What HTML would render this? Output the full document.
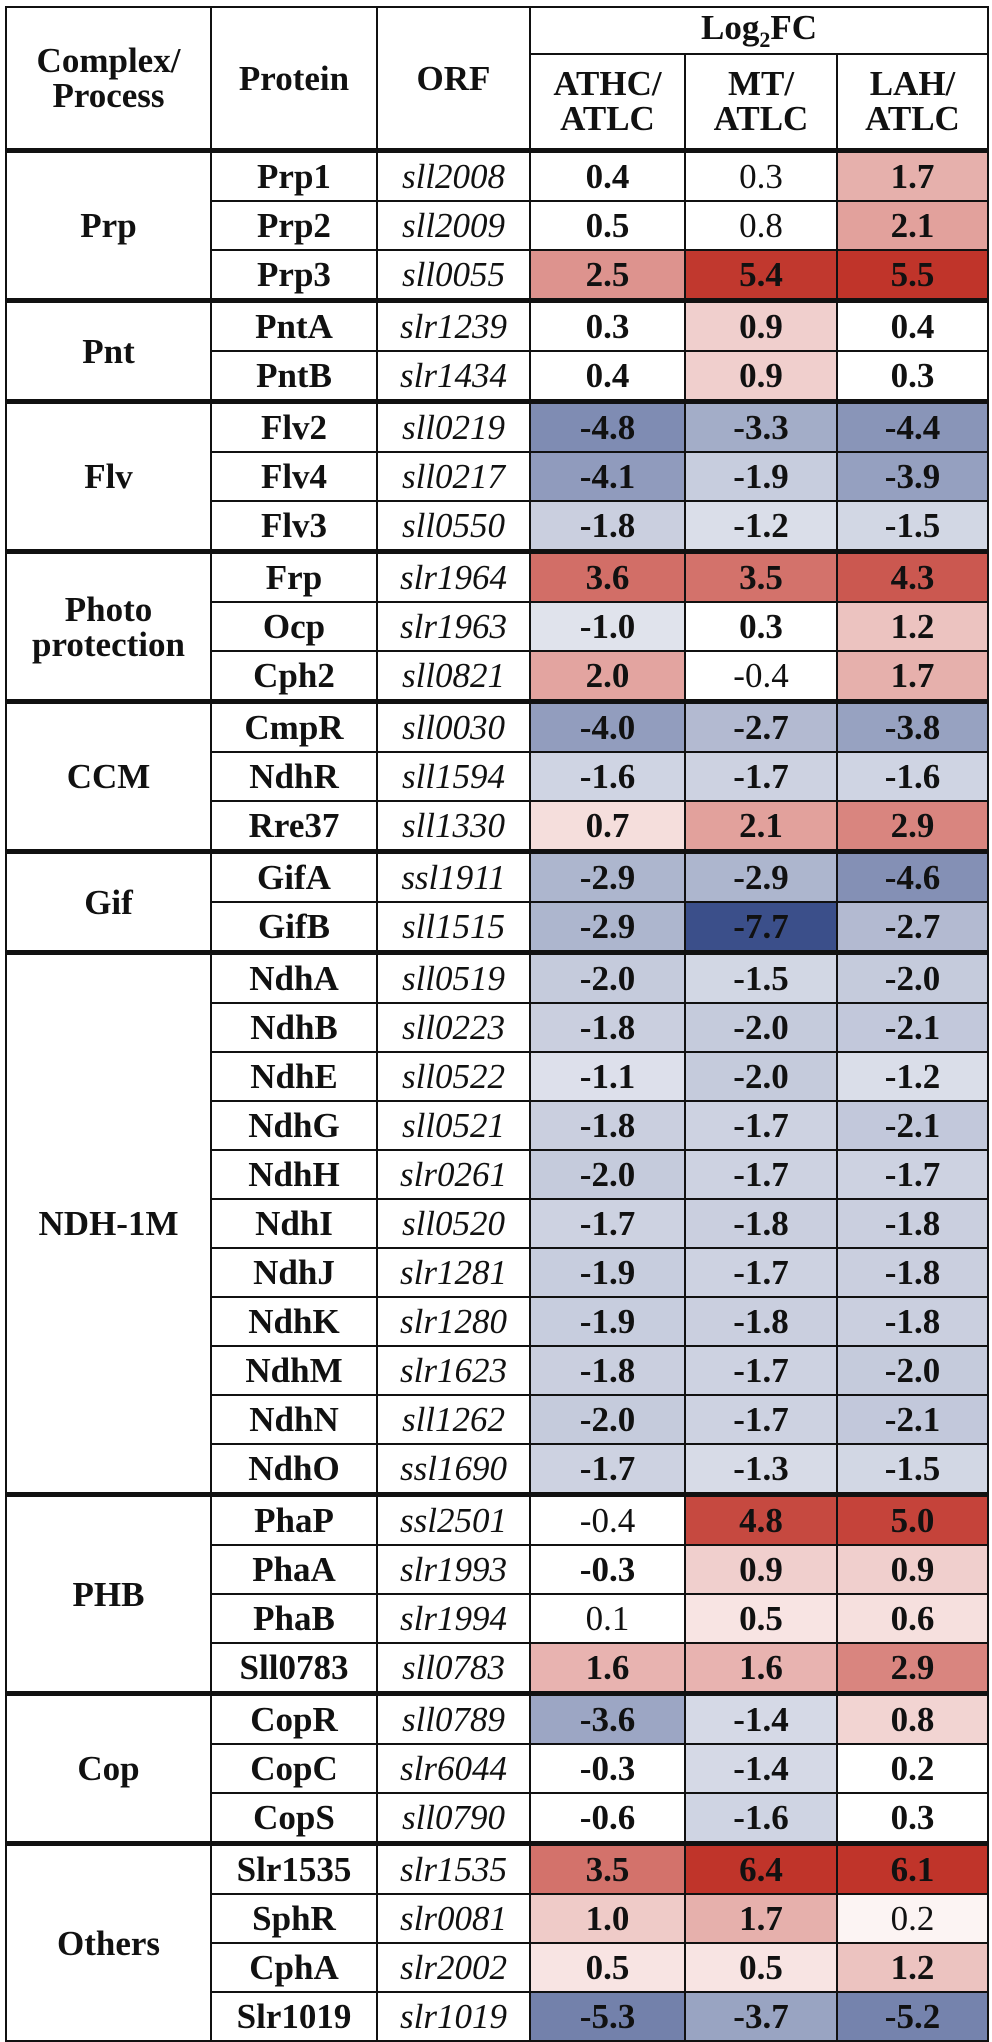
<!DOCTYPE html>
<html><head><meta charset="utf-8"><style>
html,body{margin:0;padding:0;background:#fff;width:992px;height:2036px;overflow:hidden}
table{position:absolute;left:5px;top:6px;border-collapse:collapse;font-family:"Liberation Serif",serif;font-size:35px;color:#111;table-layout:fixed}
td{border:2px solid #111;text-align:center;vertical-align:middle;padding:0;height:47px;font-weight:bold;line-height:1}
td.o{font-style:italic;font-weight:normal}
td.n{font-weight:normal}
tr.g td{border-top:5px solid #111}
.h td{height:auto}
</style></head><body>
<table>
<colgroup><col style="width:205px"><col style="width:166px"><col style="width:153px"><col style="width:155px"><col style="width:152px"><col style="width:151px"></colgroup>
<tr class="h"><td rowspan="2" style="height:140px">Complex/<br>Process</td><td rowspan="2">Protein</td><td rowspan="2">ORF</td><td colspan="3" style="height:44px">Log<sub style="font-size:22px">2</sub>FC</td></tr>
<tr class="h"><td style="height:92px">ATHC/<br>ATLC</td><td>MT/<br>ATLC</td><td>LAH/<br>ATLC</td></tr>

<tr class="g"><td rowspan="3">Prp</td><td>Prp1</td><td class="o">sll2008</td><td>0.4</td><td class="n">0.3</td><td style="background:rgb(230,176,172)">1.7</td></tr>
<tr><td>Prp2</td><td class="o">sll2009</td><td>0.5</td><td class="n">0.8</td><td style="background:rgb(226,161,156)">2.1</td></tr>
<tr><td>Prp3</td><td class="o">sll0055</td><td style="background:rgb(221,147,142)">2.5</td><td style="background:rgb(193,56,46)">5.4</td><td style="background:rgb(192,52,42)">5.5</td></tr>

<tr class="g"><td rowspan="2">Pnt</td><td>PntA</td><td class="o">slr1239</td><td>0.3</td><td style="background:rgb(240,207,205)">0.9</td><td>0.4</td></tr>
<tr><td>PntB</td><td class="o">slr1434</td><td>0.4</td><td style="background:rgb(240,207,205)">0.9</td><td>0.3</td></tr>

<tr class="g"><td rowspan="3">Flv</td><td>Flv2</td><td class="o">sll0219</td><td style="background:rgb(127,140,179)">-4.8</td><td style="background:rgb(163,173,200)">-3.3</td><td style="background:rgb(137,149,184)">-4.4</td></tr>
<tr><td>Flv4</td><td class="o">sll0217</td><td style="background:rgb(144,155,189)">-4.1</td><td style="background:rgb(199,205,222)">-1.9</td><td style="background:rgb(149,160,192)">-3.9</td></tr>
<tr><td>Flv3</td><td class="o">sll0550</td><td style="background:rgb(202,207,223)">-1.8</td><td style="background:rgb(218,222,233)">-1.2</td><td style="background:rgb(210,215,228)">-1.5</td></tr>

<tr class="g"><td rowspan="3">Photo<br>protection</td><td>Frp</td><td class="o">slr1964</td><td style="background:rgb(210,110,103)">3.6</td><td style="background:rgb(211,114,107)">3.5</td><td style="background:rgb(203,88,80)">4.3</td></tr>
<tr><td>Ocp</td><td class="o">slr1963</td><td style="background:rgb(224,227,236)">-1.0</td><td>0.3</td><td style="background:rgb(236,195,192)">1.2</td></tr>
<tr><td>Cph2</td><td class="o">sll0821</td><td style="background:rgb(227,164,160)">2.0</td><td class="n">-0.4</td><td style="background:rgb(230,176,172)">1.7</td></tr>

<tr class="g"><td rowspan="3">CCM</td><td>CmpR</td><td class="o">sll0030</td><td style="background:rgb(146,157,190)">-4.0</td><td style="background:rgb(179,186,209)">-2.7</td><td style="background:rgb(151,162,193)">-3.8</td></tr>
<tr><td>NdhR</td><td class="o">sll1594</td><td style="background:rgb(207,212,227)">-1.6</td><td style="background:rgb(205,210,225)">-1.7</td><td style="background:rgb(207,212,227)">-1.6</td></tr>
<tr><td>Rre37</td><td class="o">sll1330</td><td style="background:rgb(245,222,220)">0.7</td><td style="background:rgb(226,161,156)">2.1</td><td style="background:rgb(217,133,127)">2.9</td></tr>

<tr class="g"><td rowspan="2">Gif</td><td>GifA</td><td class="o">ssl1911</td><td style="background:rgb(173,182,206)">-2.9</td><td style="background:rgb(173,182,206)">-2.9</td><td style="background:rgb(132,144,181)">-4.6</td></tr>
<tr><td>GifB</td><td class="o">sll1515</td><td style="background:rgb(173,182,206)">-2.9</td><td style="background:rgb(59,79,138)">-7.7</td><td style="background:rgb(179,186,209)">-2.7</td></tr>

<tr class="g"><td rowspan="11">NDH-1M</td><td>NdhA</td><td class="o">sll0519</td><td style="background:rgb(197,203,220)">-2.0</td><td style="background:rgb(210,215,228)">-1.5</td><td style="background:rgb(197,203,220)">-2.0</td></tr>
<tr><td>NdhB</td><td class="o">sll0223</td><td style="background:rgb(202,207,223)">-1.8</td><td style="background:rgb(197,203,220)">-2.0</td><td style="background:rgb(194,200,219)">-2.1</td></tr>
<tr><td>NdhE</td><td class="o">sll0522</td><td style="background:rgb(221,224,235)">-1.1</td><td style="background:rgb(197,203,220)">-2.0</td><td style="background:rgb(218,222,233)">-1.2</td></tr>
<tr><td>NdhG</td><td class="o">sll0521</td><td style="background:rgb(202,207,223)">-1.8</td><td style="background:rgb(205,210,225)">-1.7</td><td style="background:rgb(194,200,219)">-2.1</td></tr>
<tr><td>NdhH</td><td class="o">slr0261</td><td style="background:rgb(197,203,220)">-2.0</td><td style="background:rgb(205,210,225)">-1.7</td><td style="background:rgb(205,210,225)">-1.7</td></tr>
<tr><td>NdhI</td><td class="o">sll0520</td><td style="background:rgb(205,210,225)">-1.7</td><td style="background:rgb(202,207,223)">-1.8</td><td style="background:rgb(202,207,223)">-1.8</td></tr>
<tr><td>NdhJ</td><td class="o">slr1281</td><td style="background:rgb(199,205,222)">-1.9</td><td style="background:rgb(205,210,225)">-1.7</td><td style="background:rgb(202,207,223)">-1.8</td></tr>
<tr><td>NdhK</td><td class="o">slr1280</td><td style="background:rgb(199,205,222)">-1.9</td><td style="background:rgb(202,207,223)">-1.8</td><td style="background:rgb(202,207,223)">-1.8</td></tr>
<tr><td>NdhM</td><td class="o">slr1623</td><td style="background:rgb(202,207,223)">-1.8</td><td style="background:rgb(205,210,225)">-1.7</td><td style="background:rgb(197,203,220)">-2.0</td></tr>
<tr><td>NdhN</td><td class="o">sll1262</td><td style="background:rgb(197,203,220)">-2.0</td><td style="background:rgb(205,210,225)">-1.7</td><td style="background:rgb(194,200,219)">-2.1</td></tr>
<tr><td>NdhO</td><td class="o">ssl1690</td><td style="background:rgb(205,210,225)">-1.7</td><td style="background:rgb(215,219,231)">-1.3</td><td style="background:rgb(210,215,228)">-1.5</td></tr>

<tr class="g"><td rowspan="4">PHB</td><td>PhaP</td><td class="o">ssl2501</td><td class="n">-0.4</td><td style="background:rgb(198,73,64)">4.8</td><td style="background:rgb(197,67,58)">5.0</td></tr>
<tr><td>PhaA</td><td class="o">slr1993</td><td>-0.3</td><td style="background:rgb(240,207,205)">0.9</td><td style="background:rgb(240,207,205)">0.9</td></tr>
<tr><td>PhaB</td><td class="o">slr1994</td><td class="n">0.1</td><td style="background:rgb(248,228,227)">0.5</td><td style="background:rgb(246,224,222)">0.6</td></tr>
<tr><td>Sll0783</td><td class="o">sll0783</td><td style="background:rgb(232,179,176)">1.6</td><td style="background:rgb(232,179,176)">1.6</td><td style="background:rgb(217,133,127)">2.9</td></tr>

<tr class="g"><td rowspan="3">Cop</td><td>CopR</td><td class="o">sll0789</td><td style="background:rgb(156,166,196)">-3.6</td><td style="background:rgb(213,217,230)">-1.4</td><td style="background:rgb(242,212,210)">0.8</td></tr>
<tr><td>CopC</td><td class="o">slr6044</td><td>-0.3</td><td style="background:rgb(213,217,230)">-1.4</td><td>0.2</td></tr>
<tr><td>CopS</td><td class="o">sll0790</td><td>-0.6</td><td style="background:rgb(207,212,227)">-1.6</td><td>0.3</td></tr>

<tr class="g"><td rowspan="4">Others</td><td>Slr1535</td><td class="o">slr1535</td><td style="background:rgb(211,114,107)">3.5</td><td style="background:rgb(192,52,42)">6.4</td><td style="background:rgb(192,52,42)">6.1</td></tr>
<tr><td>SphR</td><td class="o">slr0081</td><td style="background:rgb(239,203,200)">1.0</td><td style="background:rgb(230,176,172)">1.7</td><td class="n" style="background:rgb(252,244,243)">0.2</td></tr>
<tr><td>CphA</td><td class="o">slr2002</td><td style="background:rgb(248,228,227)">0.5</td><td style="background:rgb(248,228,227)">0.5</td><td style="background:rgb(236,195,192)">1.2</td></tr>
<tr><td>Slr1019</td><td class="o">slr1019</td><td style="background:rgb(115,129,171)">-5.3</td><td style="background:rgb(153,164,194)">-3.7</td><td style="background:rgb(117,131,173)">-5.2</td></tr>
</table>
</body></html>
